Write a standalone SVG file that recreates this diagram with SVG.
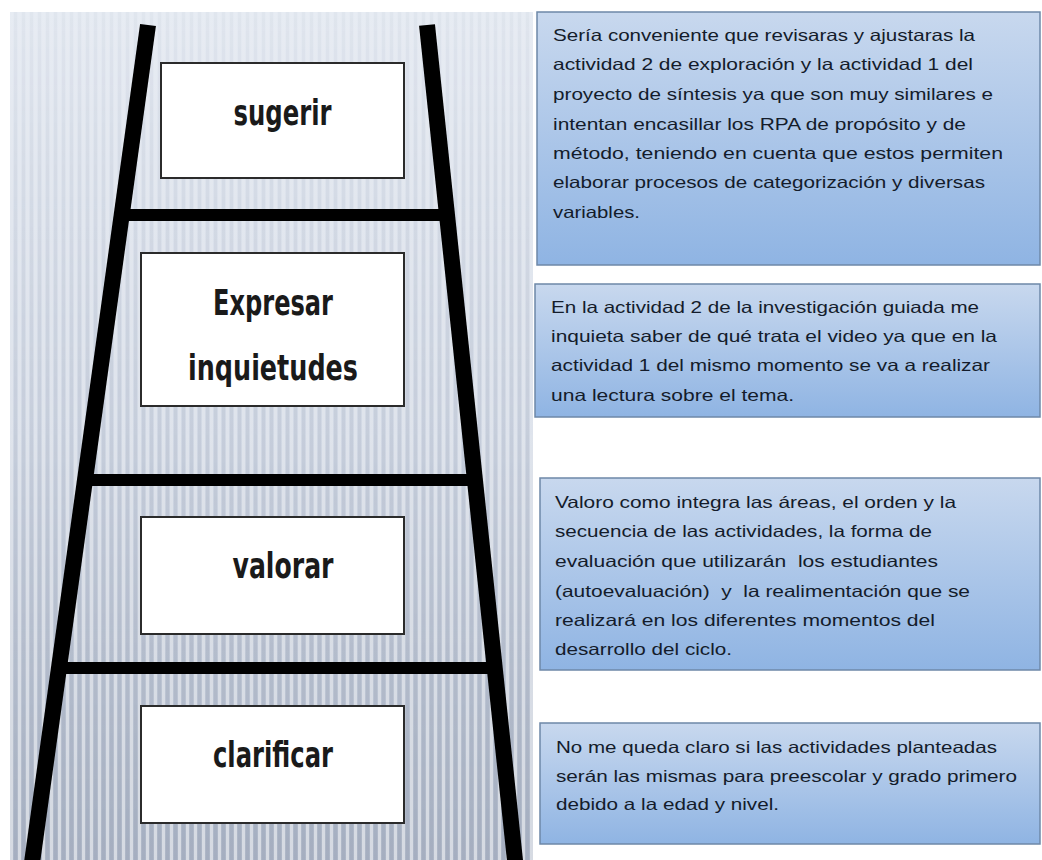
<svg xmlns="http://www.w3.org/2000/svg" width="1042" height="860" viewBox="0 0 1042 860">
  <defs>
    <linearGradient id="bg" x1="0" y1="0" x2="0" y2="1">
      <stop offset="0" stop-color="#e5eaf2"/>
      <stop offset="0.5" stop-color="#d1d8e4"/>
      <stop offset="1" stop-color="#adb6c6"/>
    </linearGradient>
    <pattern id="stripes" x="10" y="0" width="8" height="20" patternUnits="userSpaceOnUse">
      <rect x="0" y="0" width="3" height="20" fill="#ffffff" opacity="0.5"/>
      <rect x="4" y="0" width="3" height="20" fill="#8f9bb0" opacity="0.28"/>
    </pattern>
    <linearGradient id="fade" x1="0" y1="0" x2="0" y2="1">
      <stop offset="0" stop-color="#fff" stop-opacity="0.2"/>
      <stop offset="1" stop-color="#fff" stop-opacity="1"/>
    </linearGradient>
    <mask id="stripeMask">
      <rect x="10" y="12" width="523" height="848" fill="url(#fade)"/>
    </mask>
    <linearGradient id="blue" x1="0" y1="0" x2="0" y2="1">
      <stop offset="0" stop-color="#c8d8ee"/>
      <stop offset="1" stop-color="#8fb4e3"/>
    </linearGradient>
    <style>
      .lbl { font-family: "DejaVu Sans Condensed", "Liberation Sans Narrow", "Liberation Sans", sans-serif; font-size: 36px; font-weight: bold; fill: #1a1a1a; text-anchor: middle; }
      .step { fill: #ffffff; stroke: #2b2b2b; stroke-width: 2; }
      .note { fill: url(#blue); stroke: #6e88a8; stroke-width: 1.5; }
      .txt { font-family: "Liberation Sans", Arial, sans-serif; font-size: 16.5px; fill: #141c2b; }
      .rail { stroke: #000; stroke-width: 16; stroke-linecap: butt; fill: none; }
      .rung { stroke: #000; stroke-width: 12; fill: none; }
    </style>
  </defs>

  <rect width="1042" height="860" fill="#ffffff"/>

  <g id="background">
    <rect x="10" y="12" width="523" height="848" fill="url(#bg)"/>
    <rect x="10" y="12" width="523" height="848" fill="url(#stripes)" mask="url(#stripeMask)"/>
  </g>

  <g id="ladder">
    <line class="rail" x1="148" y1="25" x2="31" y2="870"/>
    <line class="rail" x1="427" y1="25" x2="516" y2="870"/>
    <line class="rung" x1="122" y1="215" x2="446" y2="215"/>
    <line class="rung" x1="86" y1="480" x2="474" y2="480"/>
    <line class="rung" x1="60" y1="668" x2="494" y2="668"/>
  </g>

  <g id="node-sugerir">
    <rect class="step" x="161" y="63" width="243" height="115"/>
    <text class="lbl" x="282.5" y="125" font-size="38" textLength="98" lengthAdjust="spacingAndGlyphs">sugerir</text>
  </g>
  <g id="node-expresar">
    <rect class="step" x="141" y="253" width="263" height="153"/>
    <text class="lbl" x="273" y="315" textLength="120" lengthAdjust="spacingAndGlyphs">Expresar</text>
    <text class="lbl" x="273" y="380" textLength="170" lengthAdjust="spacingAndGlyphs">inquietudes</text>
  </g>
  <g id="node-valorar">
    <rect class="step" x="141" y="517" width="263" height="117"/>
    <text class="lbl" x="283" y="578" textLength="101" lengthAdjust="spacingAndGlyphs">valorar</text>
  </g>
  <g id="node-clarificar">
    <rect class="step" x="141" y="706" width="263" height="117"/>
    <text class="lbl" x="273" y="767" textLength="120" lengthAdjust="spacingAndGlyphs">clarificar</text>
  </g>

  <g id="note-1">
    <rect class="note" x="537" y="12" width="503" height="253"/>
    <text class="txt" x="553" y="41" textLength="422" lengthAdjust="spacingAndGlyphs">Sería conveniente que revisaras y ajustaras la</text>
    <text class="txt" x="553" y="70" textLength="420" lengthAdjust="spacingAndGlyphs">actividad 2 de exploración y la actividad 1 del</text>
    <text class="txt" x="553" y="100" textLength="440" lengthAdjust="spacingAndGlyphs">proyecto de síntesis ya que son muy similares e</text>
    <text class="txt" x="553" y="130" textLength="413" lengthAdjust="spacingAndGlyphs">intentan encasillar los RPA de propósito y de</text>
    <text class="txt" x="553" y="159" textLength="450" lengthAdjust="spacingAndGlyphs">método, teniendo en cuenta que estos permiten</text>
    <text class="txt" x="553" y="188" textLength="432" lengthAdjust="spacingAndGlyphs">elaborar procesos de categorización y diversas</text>
    <text class="txt" x="553" y="218" textLength="87" lengthAdjust="spacingAndGlyphs">variables.</text>
  </g>

  <g id="note-2">
    <rect class="note" x="535" y="284" width="505" height="133"/>
    <text class="txt" x="551" y="313" textLength="428" lengthAdjust="spacingAndGlyphs">En la actividad 2 de la investigación guiada me</text>
    <text class="txt" x="551" y="342" textLength="446" lengthAdjust="spacingAndGlyphs">inquieta saber de qué trata el video ya que en la</text>
    <text class="txt" x="551" y="371" textLength="439" lengthAdjust="spacingAndGlyphs">actividad 1 del mismo momento se va a realizar</text>
    <text class="txt" x="551" y="401" textLength="243" lengthAdjust="spacingAndGlyphs">una lectura sobre el tema.</text>
  </g>

  <g id="note-3">
    <rect class="note" x="540" y="478" width="500" height="192"/>
    <text class="txt" x="555" y="508" textLength="401" lengthAdjust="spacingAndGlyphs">Valoro como integra las áreas, el orden y la</text>
    <text class="txt" x="555" y="537" textLength="377" lengthAdjust="spacingAndGlyphs">secuencia de las actividades, la forma de</text>
    <text class="txt" x="555" y="567" textLength="383" lengthAdjust="spacingAndGlyphs" xml:space="preserve">evaluación que utilizarán  los estudiantes</text>
    <text class="txt" x="555" y="597" textLength="415" lengthAdjust="spacingAndGlyphs" xml:space="preserve">(autoevaluación)  y  la realimentación que se</text>
    <text class="txt" x="555" y="626" textLength="380" lengthAdjust="spacingAndGlyphs">realizará en los diferentes momentos del</text>
    <text class="txt" x="555" y="655" textLength="177" lengthAdjust="spacingAndGlyphs">desarrollo del ciclo.</text>
  </g>

  <g id="note-4">
    <rect class="note" x="540" y="723" width="500" height="121"/>
    <text class="txt" x="556" y="753" textLength="441" lengthAdjust="spacingAndGlyphs">No me queda claro si las actividades planteadas</text>
    <text class="txt" x="556" y="782" textLength="461" lengthAdjust="spacingAndGlyphs">serán las mismas para preescolar y grado primero</text>
    <text class="txt" x="556" y="810" textLength="223" lengthAdjust="spacingAndGlyphs">debido a la edad y nivel.</text>
  </g>
</svg>
